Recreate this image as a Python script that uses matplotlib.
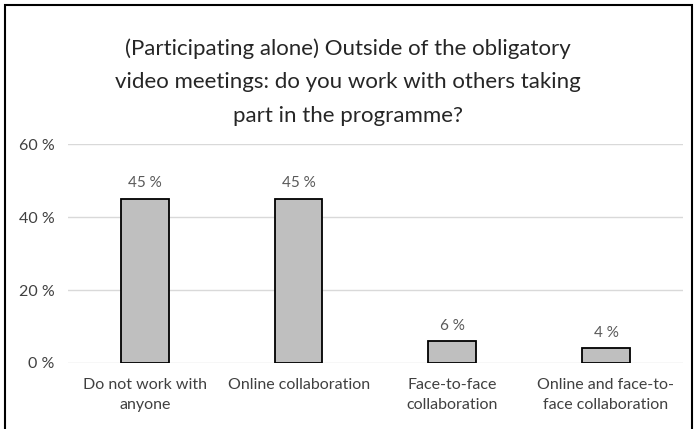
import matplotlib.pyplot as plt
from matplotlib.patches import Rectangle

plt.rcParams["font.family"] = ["Lato", "DejaVu Sans"]

categories = [
    "Do not work with\nanyone",
    "Online collaboration",
    "Face-to-face\ncollaboration",
    "Online and face-to-\nface collaboration",
]
values = [45, 45, 6, 4]
y_ticks = [0, 20, 40, 60]
title = ("(Participating alone) Outside of the obligatory\n"
         "video meetings: do you work with others taking\n"
         "part in the programme?")

fig = plt.figure(figsize=(6.96, 4.29), dpi=100)
ax = fig.add_axes([0.098, 0.154, 0.883, 0.51])

x = range(len(categories))
bars = ax.bar(x, values, width=0.31, color="#bfbfbf", edgecolor="black", linewidth=1.3, zorder=3)

for xi, v in zip(x, values):
    ax.text(xi, v + 2.3, f"{v} %", ha="center", va="bottom", fontsize=11, color="#595959")

ax.set_xlim(-0.5, len(categories) - 0.5)
ax.set_ylim(0, 60)
ax.set_yticks(y_ticks)
ax.set_yticklabels([f"{t} %" for t in y_ticks], fontsize=11.5, color="#404040")
ax.set_xticks(list(x))
ax.set_xticklabels(categories, fontsize=11.5, color="#404040", linespacing=1.55)
ax.tick_params(axis="x", length=0, pad=11)
ax.tick_params(axis="y", length=0, pad=10)
ax.grid(axis="y", color="#d9d9d9", linewidth=1, zorder=0)
for s in ax.spines.values():
    s.set_visible(False)

fig.text(0.5, 0.809, title, ha="center", va="center", fontsize=16, color="#262626", linespacing=1.85)

fig.patches.append(Rectangle((0.007, -0.01), 0.987, 0.999, transform=fig.transFigure,
                             fill=False, edgecolor="black", linewidth=1.5))

fig.savefig("out.png", dpi=100)
